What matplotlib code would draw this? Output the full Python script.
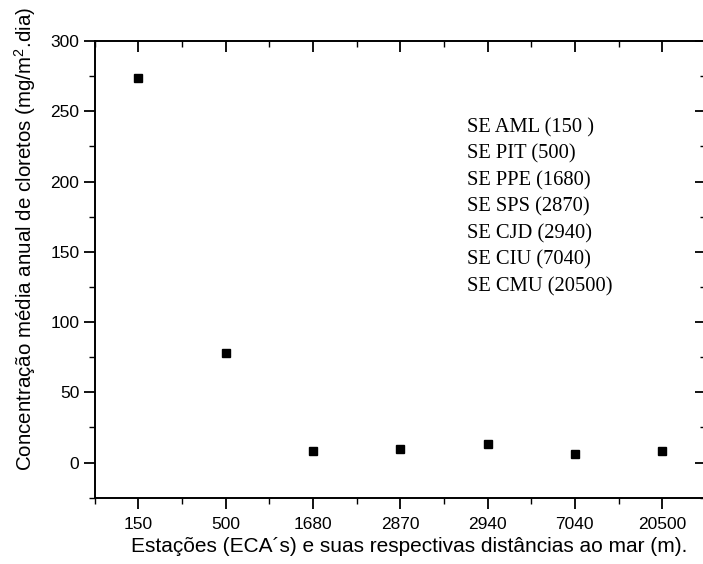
import numpy as np
import matplotlib
matplotlib.use('Agg')
import matplotlib.pyplot as plt
from matplotlib.ticker import MultipleLocator, FixedLocator

plt.rcParams['font.family'] = 'Liberation Sans'
plt.rcParams['mathtext.fontset'] = 'custom'
plt.rcParams['mathtext.rm'] = 'Liberation Sans'
plt.rcParams['mathtext.it'] = 'Liberation Sans'

# distancias ao mar (m) e concentracao media de cloretos
distancias = ['150', '500', '1680', '2870', '2940', '7040', '20500']
cloretos = [274, 78, 8.3, 9.5, 13.3, 6.4, 8.3]
estacoes = ['SE AML (150 )', 'SE PIT (500)', 'SE PPE (1680)', 'SE SPS (2870)',
            'SE CJD (2940)', 'SE CIU (7040)', 'SE CMU (20500)']

fig = plt.figure(figsize=(7.03, 5.64), dpi=100)
ax = fig.add_axes([94.7/703, 1-497.7/564, 611.1/703, (497.7-41)/564])

x = np.arange(1, len(distancias)+1)
ax.plot(x, cloretos, 's', color='black', markersize=6, linestyle='none')

ax.set_xlim(0.5, 7.5)
ax.set_ylim(-25, 300)
ax.set_xticks(x)
ax.set_xticklabels(distancias)
ax.xaxis.set_minor_locator(FixedLocator(np.arange(0.5, 8, 1.0)))
ax.set_yticks(np.arange(0, 301, 50))
ax.yaxis.set_minor_locator(MultipleLocator(25))

for s in ax.spines.values():
    s.set_linewidth(1.4)

ax.tick_params(axis='both', which='major', direction='out', length=8, width=1.3,
               labelsize=12.5, pad=3)
ax.tick_params(axis='both', which='minor', direction='out', length=4, width=1.0)
ax.tick_params(axis='x', which='both', top=True)
ax.tick_params(axis='y', which='both', right=True)
ax.tick_params(axis='x', which='major', pad=6)
# top and right ticks point inward
for t in ax.xaxis.get_ticklines(minor=False)[1::2] + ax.xaxis.get_ticklines(minor=True)[1::2]:
    t.set_marker(3)
for t in ax.yaxis.get_ticklines(minor=False)[1::2] + ax.yaxis.get_ticklines(minor=True)[1::2]:
    t.set_marker(0)

ax.set_xlabel('Estações (ECA´s) e suas respectivas distâncias ao mar (m).', fontsize=15)
ax.xaxis.set_label_coords(0.515, -0.085)
ax.set_ylabel('Concentração média anual de cloretos (mg/m$^{2}$.dia)', fontsize=14.8)
ax.yaxis.set_label_coords(-0.092, 0.567)

ax.text(467, 564 - 118, '\n'.join(estacoes), transform=None, fontsize=14.8,
        family='Liberation Serif', va='top', linespacing=1.51)

fig.savefig('out.png', dpi=100)
